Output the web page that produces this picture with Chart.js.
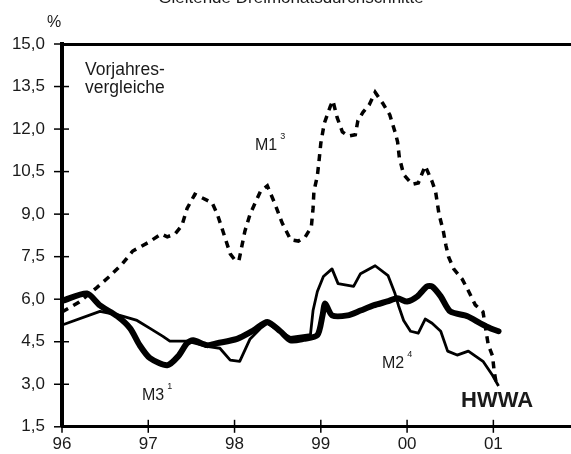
<!DOCTYPE html>
<html><head><meta charset="utf-8">
<script src="https://cdn.jsdelivr.net/npm/chart.js@4/dist/chart.umd.min.js"></script>
<style>html,body{margin:0;padding:0;background:#fff;}canvas{display:block;}</style>
</head><body>
<canvas id="c" width="571" height="454"></canvas>
<script>
const xTickLabels = ['96','97','98','99','00','01'];

// M1 (dashed)
const m1Years  = [0.00,0.20,0.40,0.55,0.70,0.82,1.00,1.15,1.22,1.31,1.39,1.45,1.54,1.74,1.80,1.86,1.95,2.00,2.05,2.12,2.18,2.30,2.38,2.47,2.55,2.65,2.74,2.82,2.89,2.91,2.92,2.96,2.98,3.00,3.04,3.11,3.14,3.19,3.25,3.32,3.40,3.43,3.49,3.56,3.63,3.72,3.80,3.86,3.89,3.91,3.96,4.06,4.13,4.21,4.29,4.33,4.35,4.37,4.42,4.45,4.48,4.54,4.64,4.71,4.79,4.88,4.94,4.99,5.01,5.03];
const m1Values = [5.55,5.90,6.40,6.80,7.25,7.70,8.00,8.30,8.20,8.30,8.60,9.20,9.70,9.40,9.00,8.45,7.60,7.40,7.35,8.40,9.00,9.80,10.0,9.35,8.70,8.10,8.05,8.20,8.55,9.20,9.80,10.35,10.9,11.5,12.2,12.8,13.0,12.4,11.9,11.75,11.8,12.3,12.6,12.85,13.3,12.9,12.5,11.9,11.55,11.0,10.4,10.05,10.1,10.7,10.15,9.80,9.40,9.00,8.40,7.90,7.50,7.07,6.70,6.30,5.80,5.55,4.40,4.00,3.45,3.10];

// M2 (thin solid)
const m2Years  = [0.01,0.44,0.67,0.87,1.02,1.17,1.25,1.45,1.68,1.83,1.95,2.06,2.18,2.30,2.38,2.53,2.65,2.88,2.91,2.96,3.03,3.13,3.20,3.38,3.46,3.63,3.78,3.86,3.90,3.96,4.04,4.13,4.21,4.29,4.39,4.47,4.58,4.71,4.88,4.99,5.06];
const m2Values = [5.10,5.57,5.43,5.25,4.97,4.69,4.52,4.52,4.34,4.27,3.85,3.81,4.60,4.97,5.15,4.85,4.65,4.75,5.60,6.27,6.80,7.07,6.55,6.45,6.90,7.18,6.83,6.20,5.78,5.25,4.87,4.80,5.30,5.15,4.87,4.17,4.03,4.17,3.81,3.32,2.94];

// M3 (thick solid)
const m3Years  = [0.01,0.29,0.44,0.64,0.79,0.90,1.02,1.22,1.35,1.45,1.52,1.68,1.80,2.03,2.22,2.38,2.53,2.65,2.80,2.96,3.02,3.05,3.13,3.31,3.46,3.61,3.77,3.89,4.00,4.12,4.23,4.29,4.39,4.50,4.70,4.85,4.97,5.06];
const m3Values = [5.95,6.20,5.78,5.40,4.97,4.38,3.92,3.67,4.00,4.45,4.55,4.38,4.45,4.60,4.90,5.20,4.87,4.55,4.60,4.73,5.43,5.85,5.43,5.43,5.60,5.78,5.92,6.03,5.92,6.10,6.45,6.45,6.10,5.57,5.40,5.15,4.97,4.87];

const pts = (xs, ys) => xs.map((x, i) => ({x, y: ys[i]}));
const FONT = '"Liberation Sans", Arial, Helvetica, sans-serif';
const TXT = '#1a1a1a';

const decor = {
  id: 'decor',
  afterDraw(chart) {
    const ctx = chart.ctx, a = chart.chartArea;
    const xs = chart.scales.x, ys = chart.scales.y;
    ctx.save();
    ctx.strokeStyle = '#000'; ctx.lineWidth = 1.5;
    const line = (x1,y1,x2,y2) => { ctx.beginPath(); ctx.moveTo(x1,y1); ctx.lineTo(x2,y2); ctx.stroke(); };
    ys.ticks.forEach(t => { const p = ys.getPixelForValue(t.value); line(a.left-8, p, a.left+7, p); });
    xs.ticks.forEach(t => { if (!Number.isInteger(t.value)) return; const p = xs.getPixelForValue(t.value); line(p, a.bottom-7, p, a.bottom+6); });
    ctx.fillStyle = TXT; ctx.textBaseline = 'alphabetic';
    ctx.font = '17px ' + FONT;
    ctx.textAlign = 'center';
    ctx.fillText('Gleitende Dreimonatsdurchschnitte', 291, 2.5);
    ctx.textAlign = 'left';
    ctx.font = '16px ' + FONT;
    ctx.fillText('%', 47, 27);
    ctx.font = '17.5px ' + FONT;
    ctx.fillText('Vorjahres-', 85, 75);
    ctx.fillText('vergleiche', 85, 93);
    const lab = (t, sup, x, y) => {
      ctx.font = '16px ' + FONT; ctx.fillText(t, x, y);
      const w = ctx.measureText(t).width;
      ctx.font = '9px ' + FONT; ctx.fillText(sup, x + w + 3, y - 11);
    };
    lab('M1', '3', 255, 150);
    lab('M3', '1', 142, 400);
    lab('M2', '4', 382, 368);
    ctx.font = 'bold 22px ' + FONT;
    ctx.fillText('HWWA', 461, 407);
    ctx.restore();
  }
};

new Chart(document.getElementById('c'), {
  type: 'line',
  data: {
    datasets: [
      { label: 'M3', data: pts(m3Years, m3Values), borderColor: '#000', borderWidth: 6, pointRadius: 0, tension: 0.25, borderJoinStyle: 'round', borderCapStyle: 'round' },
      { label: 'M2', data: pts(m2Years, m2Values), borderColor: '#000', borderWidth: 2.8, pointRadius: 0, tension: 0, borderJoinStyle: 'round' },
      { label: 'M1', data: pts(m1Years, m1Values), borderColor: '#000', borderWidth: 3.5, pointRadius: 0, tension: 0, borderDash: [7, 6] }
    ]
  },
  options: {
    responsive: false,
    animation: false,
    layout: { padding: { top: 44, right: 0, bottom: 0, left: 0 } },
    plugins: { legend: { display: false }, tooltip: { enabled: false }, title: { display: false } },
    scales: {
      x: {
        type: 'linear', position: 'bottom', min: 0, max: 5.9,
        afterFit(s) { s.height = 25; },
        ticks: { stepSize: 1, includeBounds: false, autoSkip: false, maxRotation: 0, padding: 7, color: TXT,
          font: { family: FONT, size: 17 },
          callback: v => Number.isInteger(v) ? xTickLabels[v] : '' },
        grid: { drawOnChartArea: false, drawTicks: false },
        border: { display: true, width: 3, color: '#000' }
      },
      x2: {
        type: 'linear', position: 'top', min: 0, max: 5.9,
        afterFit(s) { s.height = 0; },
        ticks: { display: false },
        grid: { drawOnChartArea: false, drawTicks: false },
        border: { display: true, width: 3, color: '#000' }
      },
      y: {
        min: 1.5, max: 15,
        afterFit(s) { s.width = 62; },
        ticks: { stepSize: 1.5, padding: 17, color: TXT, font: { family: FONT, size: 17 },
          callback: v => v.toFixed(1).replace('.', ',') },
        grid: { drawOnChartArea: false, drawTicks: false },
        border: { display: true, width: 4, color: '#000' }
      }
    }
  },
  plugins: [decor]
});
</script></body></html>
